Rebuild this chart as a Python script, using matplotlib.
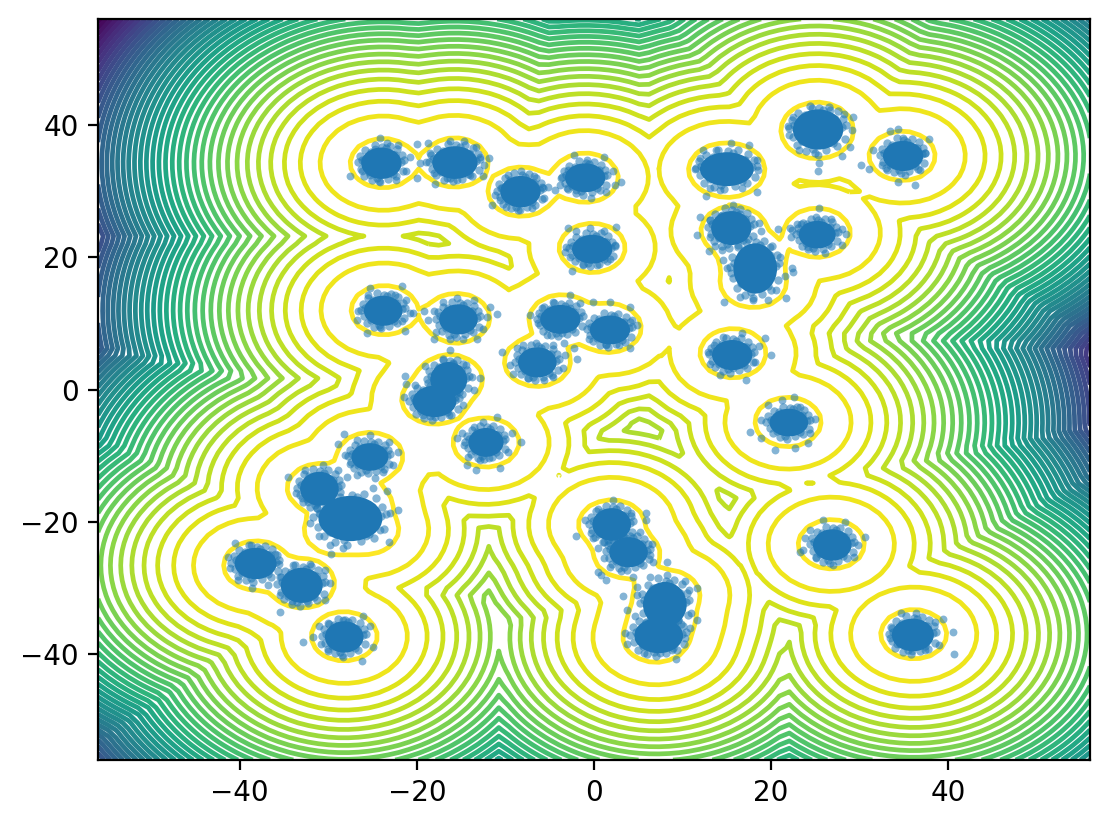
import numpy as np
import matplotlib
matplotlib.use("Agg")
import matplotlib.pyplot as plt
from matplotlib.patches import Ellipse

# mixture components behind the contours
comp_x = [-23.8,-15.7,-8.2,-1.0,-0.2,14.5,15.5,25.2,25.2,34.8,15.8,17.9,18.0,25.2,-23.7,-15.5,-3.6,1.6,-6.4,-16.3,-18.0,15.7,21.9,-12.2,-25.3,-30.9,-29.0,-25.8,-26.5,2.0,3.7,8.2,7.7,7.0,26.8,36.1,-38.1,-33.0,-28.2]
comp_y = [34.2,34.3,29.9,32.0,21.4,33.2,33.2,38.7,39.6,35.3,24.0,20.0,16.1,23.7,12.0,10.8,10.6,9.3,4.2,1.5,-1.5,5.5,-4.9,-8.0,-10.2,-14.9,-21.2,-21.2,-17.5,-20.4,-24.8,-31.0,-34.5,-37.5,-23.4,-37.0,-26.6,-29.3,-37.3]
comp_sigma = 1.5

# dense middle of each point cloud: centre x, centre y, half width, half height
blob_x = [-24,-15.7,-8.3,-1,-0.2,15,25.3,34.9,15.5,18.2,25.2,-23.8,-15.3,-3.8,1.8,-6.4,-16.4,-18,15.6,22,-12.2,-25.3,-31,-27.5,2,3.9,8,7.3,26.9,36,-38.2,-33,-28.2]
blob_y = [34.2,34.3,29.9,32,21.2,33.3,39.3,35.3,24.4,18.3,23.4,11.9,10.6,10.6,9,4.1,1.5,-1.8,5.2,-5,-8,-10.2,-15,-19.5,-20.4,-24.6,-32.5,-37.2,-23.5,-37.1,-26.3,-29.6,-37.4]
blob_w = [2.4,2.7,2.4,2.4,2.4,3.2,3.0,2.4,2.4,2.6,2.2,2.3,2.3,2.4,2.4,2.3,2.2,2.6,2.4,2.3,2.1,2.2,2.3,3.8,2.3,2.3,2.6,2.9,2.3,2.5,2.5,2.5,2.3]
blob_h = [2.5,2.6,2.5,2.3,2.3,2.7,3.2,2.4,2.7,4.0,2.2,2.4,2.4,2.3,2.3,2.4,2.8,2.5,2.4,2.2,2.3,2.2,2.7,3.6,2.6,2.4,3.6,2.8,2.5,2.6,2.5,2.8,2.5]

# the thousands of points inside the clouds can't be read one by one, so the
# edge of each cloud is a stand-in: one hand typed set of offsets, in blob widths
edge_dx = [1.05,0.95,0.75,0.4,0.05,-0.3,-0.75,-1.0,-1.1,-0.95,-0.8,-0.45,-0.1,0.3,0.7,1.0,0.9,-0.9,0.2,-0.2,0.65,-0.6,0.55,-0.5]
edge_dy = [0.2,0.5,0.85,1.05,1.0,1.1,0.8,0.45,0.05,-0.35,-0.75,-1.0,-1.1,-0.95,-0.8,-0.45,0.1,0.2,0.9,-0.9,0.5,-0.55,-0.65,0.7]

# loose points around the clouds, cloud by cloud
loose = [
    (-27.5,32.3),(-26,34.7),(-26.2,33),(-25.3,32.4),(-24.2,31.4),(-22.3,31.7),(-21.2,33),(-20.8,35.2),(-22.1,37),(-23.4,37.2),(-24.7,36.3),(-24.2,38),(-20,32),(-20,37.1),
    (-19.7,34.3),(-19,34.4),(-18,31.1),(-18.5,35.7),(-18.1,32.7),(-16.6,32),(-15.5,31.6),(-14,32.4),(-12.5,32.2),(-12.4,34),(-11.9,35),(-13.3,36.7),(-14.7,37.5),(-16.3,37.5),(-18.7,37.2),(-12.9,35.2),
    (-11.2,29.4),(-10.4,30.4),(-9.7,32.4),(-11.5,27.9),(-9.9,27.6),(-8.4,27.1),(-7,27.4),(-5.7,28.9),(-5.2,30.6),(-5.9,30.6),(-6.8,32.2),(-8.2,33),(-4.4,30.2),(-10.6,28.6),
    (-3.7,32),(-3.8,30.9),(-2.9,33.2),(-2.3,35.5),(-0.8,34.7),(1.1,35.2),(2.1,33),(3.1,31.3),(2.4,30.9),(1.4,29.9),(-0.3,28.9),(-2,30.2),(-3.1,30.4),
    (-2.9,24.4),(-3.2,21.6),(-2.7,20.1),(-2.5,17.9),(-1.2,18.8),(0.3,18.8),(1.8,19.8),(2.4,21.9),(2.5,24.5),(1.1,23.9),(-0.4,24.4),(-2,23.9),(-3.3,20.8),
    (-25.5,14.3),(-21.7,15.7),(-26.6,11.8),(-26.8,10.5),(-25.6,8.5),(-24.2,9.5),(-21.3,8.8),(-21.7,10.3),(-20.8,11.5),(-20.4,11.5),(-21.2,13.5),(-22.5,14.3),(-25.3,15.3),
    (-19.2,11.9),(-18.1,11.8),(-18.1,7.6),(-17.8,8.7),(-16.3,7.7),(-14.8,7.7),(-13.2,7.7),(-12.5,9.2),(-12.1,11),(-10.9,11.4),(-11.7,12.4),(-13.6,13.5),(-15.5,13.8),(-17,13.3),(-18.7,10.5),
    (-7.2,11.3),(-6.3,10),(-5.9,12.3),(-4.6,13.3),(-2.7,14.3),(-1.6,13),(-5.3,8.2),(-3.6,8.5),(-3.4,7),(-2.7,12.3),
    (-0.1,13.3),(1.8,13.3),(4.1,12.4),(4.8,9.8),(4.1,6.2),(2.8,6.7),(1.3,6.7),(-0.6,7.7),(4.3,10.5),(-2.3,6.2),(-1.9,4.6),
    (-10.4,5.6),(-9.5,3.7),(-8.7,6.2),(-9.1,2.4),(-7.4,1.7),(-5.7,1.4),(-4.6,1.9),(-3.5,3.2),(-3.3,5.2),(-4.6,6.7),(-6.5,7),(-8,6.7),
    (-16.3,5.9),(-21.3,2.1),(-21.2,0.9),(-21.5,-1.1),(-20.2,0.7),(-19.1,3.5),(-20.2,-1.8),(-19.3,-3.9),(-17.9,-4.1),(-16.4,-3.9),(-14.8,-2.3),(-13.6,-0.1),(-12.9,1.7),(-13.8,1.9),(-14.4,3.7),(-15.9,3.9),(-17.1,4.4),
    (-15.5,-7.4),(-14.9,-6.6),(-14.7,-8.4),(-14.2,-10.2),(-14.3,-11.4),(-13.3,-12.2),(-12.9,-10.7),(-11.9,-10.4),(-10.6,-11.8),(-9.7,-9.4),(-8.2,-8),(-9.3,-6.6),(-11,-4.1),(-12.5,-4.9),(-13.6,-5.6),
    (-28.2,-6.7),(-28.9,-8.2),(-28.1,-9.9),(-27.6,-11.2),(-26.8,-12.9),(-24.7,-13.4),(-23.8,-12.4),(-22.7,-11.4),(-22.1,-9.4),(-23.2,-7.9),(-25.3,-6.9),(-26.8,-7.6),
    (-34.5,-13.2),(-33.6,-15.7),(-33,-16.4),(-32.6,-12.2),(-30.6,-11.4),(-32.3,-17),(-31.3,-17.2),(-28.9,-12.2),(-27.9,-13.2),
    (-32.1,-20.2),(-31.1,-18.7),(-31,-22.2),(-29.8,-23.5),(-29.7,-24.9),(-28.3,-24),(-25.7,-22.2),(-24.2,-21.2),(-23.2,-23),(-23,-18.7),(-22.1,-18.2),(-23.4,-15.4),(-24.9,-14.9),(-29.4,-15.2),
    (-41.3,-25.3),(-41.1,-27),(-40.5,-23.2),(-38.7,-23.5),(-40.2,-28.8),(-38.6,-30),(-36,-24.8),(-36.8,-29.5),(-35.6,-26.3),(-35.3,-28.3),
    (-35.5,-33.7),(-35.5,-31),(-34.1,-32),(-32.4,-32),(-30.4,-31.8),(-29.8,-29.3),(-30.4,-27.3),(-32.1,-26.3),(-34,-26.5),
    (-32.9,-38.1),(-31.7,-37.4),(-31,-35.8),(-30,-35.3),(-28.3,-34.8),(-26.1,-34.3),(-25.3,-35.8),(-24.9,-38.9),(-26.2,-41),(-28.3,-40.4),(-30,-39.6),(-30.8,-38.4),
    (-2,-22.2),(-1,-19.7),(-0.3,-21.7),(-0.1,-22.5),(0.5,-18),(2.2,-16.7),(4.2,-18.7),(5.9,-18.6),(5.9,-19.7),(5.2,-21.5),(1.1,-23),
    (0.5,-24),(1.1,-25.5),(0.4,-27.6),(0.8,-28.1),(1.3,-28.8),(1.8,-26.8),(3.1,-27.5),(4.4,-28.4),(6.5,-23.3),(8.2,-26),(6.7,-26),(6.3,-25),
    (4.8,-29.8),(3.3,-31.2),(4.8,-31.1),(6.3,-28.3),(8.2,-28),(10.3,-29),(11.6,-30),(10.7,-30.3),(11,-33.8),(9.7,-32.8),
    (3.7,-33.4),(4.6,-34.3),(3.5,-36.8),(3.7,-38.4),(5.6,-39.9),(7.5,-39.9),(9.3,-40.7),(10.3,-37.5),(10.8,-36.1),(11.6,-34.8),(8.8,-39.3),
    (12.6,29.2),(11.4,33.4),(12.3,36.2),(13.8,36.2),(15.5,37.2),(17.5,37),(18.5,33.2),(18.4,29.9),(16.7,30.4),(14.2,30.2),(13.1,30.4),(12,35),(18.4,34.7),
    (21.9,39.8),(22.5,41.2),(22,38.5),(23.1,36.2),(25.3,35.4),(25.4,34.3),(25.3,33.1),(28,35.3),(28.9,36.7),(29.1,39.2),(29.2,41.2),(26.6,42.2),(24.6,42.5),(28.2,41.6),
    (30.2,33.9),(31,33.3),(31.5,36.2),(32.5,33.9),(33.4,39.1),(34.3,39.3),(33.1,33.2),(35.1,32.4),(36.2,30.9),(34.3,31.4),(36.8,33.2),(37.4,35.7),(37.8,37.9),(34.9,38),
    (12,26),(11.6,23.3),(13.1,25.6),(13.1,23.1),(13,21),(13.7,21.7),(14.4,26.4),(16.5,26.6),(18.6,25.1),(20.8,24.3),(18.9,23.9),(15.7,27.9),
    (14.6,19.6),(15,18.3),(15.5,17.6),(14.7,13.3),(16.5,14),(18,13.5),(19.7,13.5),(21.7,13.9),(20.6,15),(21.6,17.1),(22.3,18.3),(22.5,17.7),(21,20.1),(19.9,21.6),(14.4,21.1),
    (22.1,24.4),(22.2,23.1),(22.9,25),(23.4,25),(24.2,21.6),(26.1,20.7),(28,21.9),(28.5,23.5),(28,24.2),(26.8,25.7),(25.1,26.1),(25.4,27.4),(22.3,24.1),
    (12.9,5.7),(13.5,6.7),(14.6,8),(16.7,8.5),(19.3,7.8),(20,5.2),(18.6,6.5),(18.2,4.2),(17.2,1.5),(15.7,3.2),(14.2,2.2),(13.1,3.9),
    (17.6,-6.4),(18.9,-4.6),(18.8,-7.4),(20.4,-9.1),(22.7,-8.9),(24.2,-8.1),(24.4,-6.6),(24.9,-4.4),(23.3,-2.7),(22.6,-1.1),(21.2,-1.6),(19.7,-2.3),
    (23.6,-24.3),(23.8,-22.5),(24.4,-21.2),(25.9,-19.7),(28.3,-20),(30.6,-22.3),(29.8,-23.5),(29.3,-25.3),(27,-26.5),(25.1,-25.5),(23.3,-24.5),
    (33.4,-37.6),(33.6,-36.1),(34.7,-33.8),(36.4,-33.8),(38.5,-35.1),(39.4,-34.7),(40.5,-36.7),(40.6,-40),(38.9,-38.6),(37.4,-39.4),(35.9,-39.6),(34.2,-38.4),
]

axis_ticks = [-40, -20, 0, 20, 40]
top_level = -3.14
level_step = 8.2

x = np.linspace(-56, 56, 100)
y = np.linspace(-56, 56, 100)
X, Y = np.meshgrid(x, y)
parts = [-((X-a)**2 + (Y-b)**2)/(2*comp_sigma**2) for a, b in zip(comp_x, comp_y)]
Z = np.logaddexp.reduce(parts, axis=0)

lev = top_level - level_step*np.arange(60)[::-1]
lev = lev[lev > Z.min()]

fig = plt.figure(figsize=(1111/200, 826/200), dpi=200)
ax = fig.add_axes([98/1111, 1-760/826, 992/1111, 741/826])
ax.contour(X, Y, Z, levels=lev, cmap="viridis", linewidths=1.7)
for a, b, w, h in zip(blob_x, blob_y, blob_w, blob_h):
    ax.add_patch(Ellipse((a, b), 1.9*w, 1.9*h, color="tab:blue", lw=0, zorder=3))
    ax.scatter(np.array(edge_dx)*w + a, np.array(edge_dy)*h + b, s=9, color="tab:blue", alpha=0.55, lw=0, zorder=4)
lx, ly = zip(*loose)
ax.scatter(lx, ly, s=8, color="tab:blue", alpha=0.55, lw=0, zorder=4)
ax.set_xlim(-56, 56)
ax.set_ylim(-56, 56)
ax.set_xticks(axis_ticks)
ax.set_yticks(axis_ticks)
fig.savefig("out.png", dpi=200)
